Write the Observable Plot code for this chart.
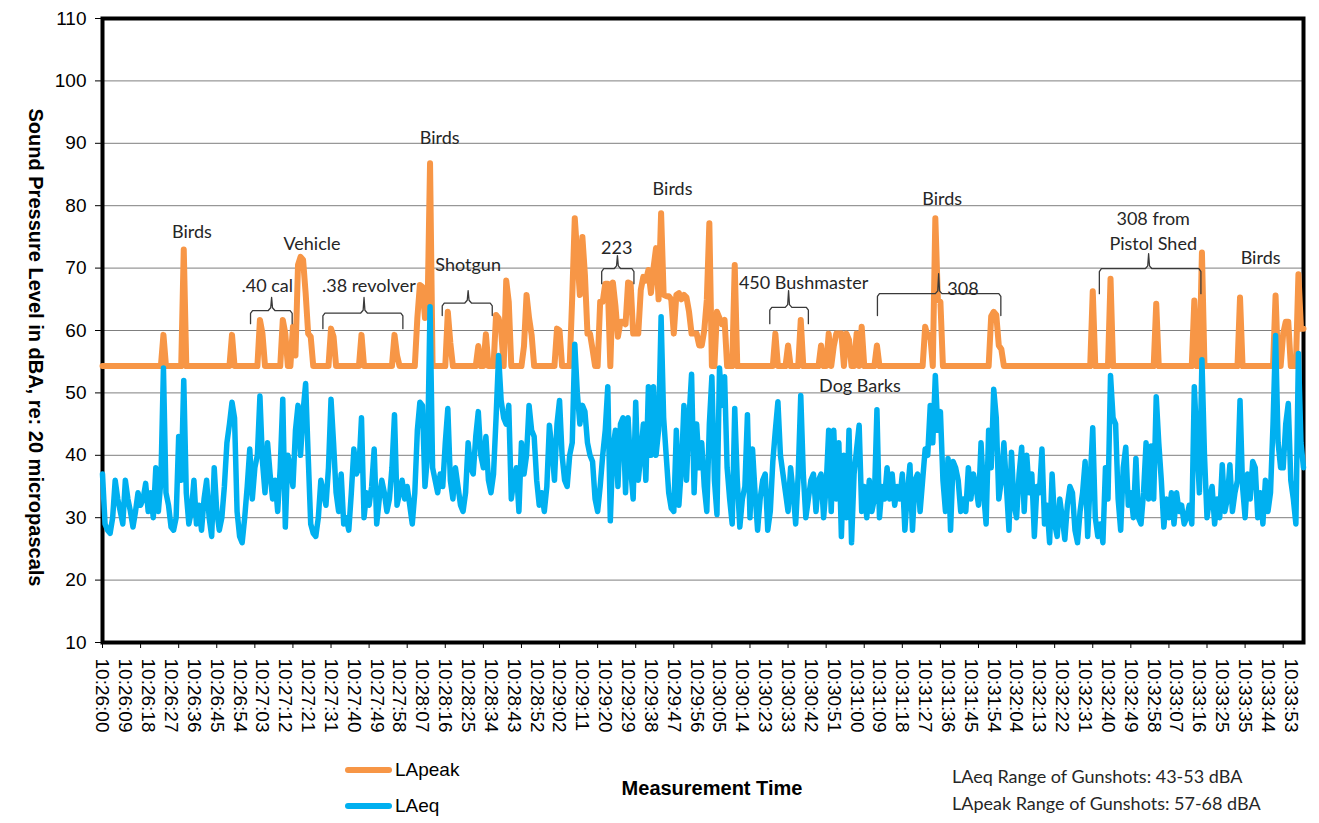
<!DOCTYPE html>
<html><head><meta charset="utf-8">
<script src="https://cdn.jsdelivr.net/npm/d3@7"></script>
<script src="https://cdn.jsdelivr.net/npm/@observablehq/plot@0.6"></script>
<style>
body{margin:0;background:#fff;}
#wrap{position:relative;width:1319px;height:823px;overflow:hidden;background:#fff;font-family:"Liberation Sans",Arial,sans-serif;}
#legend{position:relative;width:1319px;height:78px;}
.sw{position:absolute;height:6px;border-radius:3px;}
.lt{position:absolute;white-space:nowrap;line-height:1;color:#000;}
</style></head><body><div id="wrap"><div id="chart"></div><div id="legend"></div></div>
<script>
// Tick labels (every 9th sample)
const tickLabels = ["10:26:00","10:26:09","10:26:18","10:26:27","10:26:36","10:26:45","10:26:54","10:27:03","10:27:12","10:27:21","10:27:31","10:27:40","10:27:49","10:27:58","10:28:07","10:28:16","10:28:25","10:28:34","10:28:43","10:28:52","10:29:02","10:29:11","10:29:20","10:29:29","10:29:38","10:29:47","10:29:56","10:30:05","10:30:14","10:30:23","10:30:33","10:30:42","10:30:51","10:31:00","10:31:09","10:31:18","10:31:27","10:31:36","10:31:45","10:31:54","10:32:04","10:32:13","10:32:22","10:32:31","10:32:40","10:32:49","10:32:58","10:33:07","10:33:16","10:33:25","10:33:35","10:33:44","10:33:53"];
const labelEvery = 9;
const tickEvery = 15;
const yTicks = [10,20,30,40,50,60,70,80,90,100,110];

const seriesNames = ["LApeak","LAeq"];
const seriesColors = ["#F79646","#00B0F0"];

// LApeak (dBA), one value per sample
const laPeak = [
54.3,54.3,54.3,54.3,54.3,54.3,54.3,54.3,54.3,54.3,54.3,54.3,54.3,54.3,54.3,54.3,54.3,54.3,54.3,54.3,
54.3,54.3,54.3,54.3,59.3,54.3,54.3,54.3,54.3,54.3,54.3,54.3,73,54.3,54.3,54.3,54.3,54.3,54.3,54.3,
54.3,54.3,54.3,54.3,54.3,54.3,54.3,54.3,54.3,54.3,54.3,59.3,54.3,54.3,54.3,54.3,54.3,54.3,54.3,54.3,
54.3,54.3,61.7,59.5,54.3,54.3,54.3,54.3,54.3,54.3,54.3,61.7,59.5,54.3,54.3,60.6,56,70.5,71.8,71.3,
66,59.5,59,54.3,54.3,54.3,54.3,54.3,54.3,54.3,60.3,59,54.3,54.3,54.3,54.3,54.3,54.3,54.3,54.3,
54.3,54.3,59.3,54.3,54.3,54.3,54.3,54.3,54.3,54.3,54.3,54.3,54.3,54.3,54.3,59.3,56,54.3,54.3,54.3,
54.3,54.3,54.3,54.3,62,67.3,67,62,63,86.8,54.3,54.3,54.3,54.3,54.3,54.3,63,58,54.3,54.3,
54.3,54.3,54.3,54.3,54.3,54.3,54.3,54.3,57.5,54.3,54.3,59.4,54.3,54.3,54.3,62.5,62,60,54.3,68,
64.6,54.3,54.3,54.3,54.3,54.3,57.5,65.7,62,59.3,54.3,54.3,54.3,54.3,54.3,54.3,54.3,54.3,54.3,60.3,
60,54.3,54.3,54.3,54.3,65.4,78,72,65.7,75,68.9,59.5,59.5,57,54.3,54.3,64.6,64.6,67.5,67.5,
54.3,67.7,64,59,61.4,61.4,61,67.7,67.5,59.5,59.5,59.5,66.5,68.6,68,69.7,66,70,73.2,65,
78.8,65.7,65.5,65.5,65,59.5,65.7,66,65,65.7,65.3,63,59.5,59.5,59.5,57.6,57.6,60,64.9,77.2,
54.3,54.3,63,62,61,61.7,54.3,54.3,54.3,70.5,54.3,54.3,54.3,54.3,54.3,54.3,54.3,54.3,54.3,54.3,
54.3,54.3,54.3,54.3,54.3,59.5,54.3,54.3,54.3,54.3,57.6,54.3,54.3,54.3,54.3,61.7,54.3,54.3,54.3,54.3,
54.3,54.3,54.3,57.6,54.3,54.3,59.5,54.3,57.5,59.5,59.5,59.5,54.3,59.5,58.5,54.3,54.3,59.5,54.3,60.6,
54.3,54.3,54.3,54.3,54.3,57.6,54.3,54.3,54.3,54.3,54.3,54.3,54.3,54.3,54.3,54.3,54.3,54.3,54.3,54.3,
54.3,54.3,54.3,54.3,60.6,59,59.3,54.3,78,65,64.6,54.3,54.3,54.3,54.3,54.3,54.3,54.3,54.3,54.3,
54.3,54.3,54.3,54.3,54.3,54.3,54.3,54.3,54.3,54.3,62.3,63,62.5,57.6,57,54.3,54.3,54.3,54.3,54.3,
54.3,54.3,54.3,54.3,54.3,54.3,54.3,54.3,54.3,54.3,54.3,54.3,54.3,54.3,54.3,54.3,54.3,54.3,54.3,54.3,
54.3,54.3,54.3,54.3,54.3,54.3,54.3,54.3,54.3,54.3,66.3,54.3,54.3,54.3,54.3,54.3,54.3,68.3,54.3,54.3,
54.3,54.3,54.3,54.3,54.3,54.3,54.3,54.3,54.3,54.3,54.3,54.3,54.3,54.3,54.3,64.3,54.3,54.3,54.3,54.3,
54.3,54.3,54.3,54.3,54.3,54.3,54.3,54.3,54.3,54.3,64.8,54.3,54.3,72.5,54.3,54.3,54.3,54.3,54.3,54.3,
54.3,54.3,54.3,54.3,54.3,54.3,54.3,54.3,65.3,54.3,54.3,54.3,54.3,54.3,54.3,54.3,54.3,54.3,54.3,54.3,
54.3,54.3,65.6,54.3,54.3,59.5,61.4,61.4,54.3,54.3,54.3,69,60.3,60.3
];

// LAeq (dBA), one value per sample
const laEq = [
37,29,28,27.5,30,36,33,31,29,36,33,31,28.5,31,34,32,33,35.5,31,34,
30,38,31,36,54,34,32,28.5,28,30,43,36,52,34,29,31,36,29,32,28,
33,36,30,27,38,31,28,30,35,42,45,48.5,46,31,27,26,30,35,41,33,
38,40,49.5,39,34,42,37,33,36,31,38,49,28.5,40,38,35,44,48,40,47,
51.5,40,29,27.5,27,30,36,34,32,38,49,42,34,31,37,29,30,28,34,41,
37,38,46,30,34,32,35,41,29,33,36,34,31,33,38,46.5,32,34,36,33,
35,32,29,34,44,48.5,48,35,40,63.8,38,36,34,37,35,42,47.5,36,33,38,
35,32,31,34,42,38,37,43,47,40,38,43,36,34,37,46,56,48.8,46,45,
48,33,36,38,31,42,37,40,48,44,43,36,32,34,31,35,44.8,41,36,45,
48.8,40,36,35,40,42,57.8,50,45,48,47,42,40,39,33,31,35,40,44,51,
29.5,41,44,35,45,46,34,46,38,33,48.5,36,40,45,36,51,40,51,40,44,
62.2,46,40,34,31.5,31,44,32,38,48,36,46,53,34,45,38,42,35,31,45,
52.6,36,30.5,54,48,52.6,38,33,29,47.5,36,28.5,33,35,46.5,30,41,34,28,33,
36,37,28,31,39,44,48.6,40,37,34,31,38,34,29,37,49.6,37,30,33,36,
37,31,36,37,30,35,44,31,44,33,42,27,40,30,44,26,37,41,44.8,31,
35,30,36,31,33,47.3,30,35,33,38,33,37,32,35,33,37,28,34,38.5,28,
36,37,31,36,41,40,48,42,52.8,44,47,36,31,39.5,28,39,38,36,31,33,
31,38,33,37,35,32,42,34,29,44,38,50.6,46,33,36,42,35,28,40.5,32,
30,37,41.3,31,40,34,37,27,35,34,41,29,32,26,37,29,27,33,30,26.5,
32,35,34,28,26,31,34,39,27,36,44.4,30,27,29,26,38,33,52.8,46,45,
33,28,38,41.3,32,34,30,39.5,30,29,34,42,33,41.5,33,49.4,42,36,28.5,33,
30,34,29,34,31,32,29,30,32,29,51,42,34,55.3,40,30,33,35,29,33,
30,38.5,31,33,38.5,31,34,36,48.8,35,30,37,33,39,38,30,34,29,36,31,
34,45,59.2,42,38,38,45,48.3,36,33,29,56.3,42,38
];

// Annotations (sample index, dBA)
const annoLabels = ["Birds",".40 cal","Vehicle",".38 revolver","Birds","Shotgun","223","Birds","450 Bushmaster","Dog Barks","Birds","308","308 from","Pistol Shed","Birds"];
const annoX = [35.2,64.9,82.5,104.9,132.8,144,202.5,224.5,276.1,298.3,330.7,338.9,413.8,413.8,456.1];
const annoY = [75.8,67.1,73.9,67.1,90.8,70.4,73.2,82.7,67.5,51.1,81.1,66.6,77.8,73.9,71.6];

// Braces (sample index span, dBA levels)
const braceX1 = [58.3,86.8,133.8,196.6,262.8,305.2,392.6];
const braceX2 = [74.7,118.3,153.5,209.3,278,353.8,432.6];
const braceMid = [66.6,103,144,202.8,270.2,329.3,412];
const braceY = [63.2,62.8,64.4,69.9,63.7,65.9,69.9];
const braceEnd = [61.1,60.3,62.4,67.5,61.1,62.4,65.9];
const braceTip = [65.3,65.3,66.4,72,66.4,69.1,72.3];

const yTitle = "Sound Pressure Level in dBA, re: 20 micropascals";
const xTitle = "Measurement Time";
const notes = ["LAeq Range of Gunshots: 43-53 dBA","LApeak Range of Gunshots: 57-68 dBA"];

// ---- build tables ----
const peakRows = laPeak.map((v, i) => ({i, v}));
const eqRows = laEq.map((v, i) => ({i, v}));
const N = laEq.length;
const labelIdx = tickLabels.map((_, k) => k * labelEvery);
const tickIdx = d3.range(0, N, tickEvery);
const annos = annoLabels.map((t, k) => ({t, x: annoX[k], y: annoY[k]}));
const bracePts = [];
braceX1.forEach((x1, k) => {
  const x2 = braceX2[k], xm = braceMid[k], y = braceY[k], ye = braceEnd[k], yt = braceTip[k];
  const p = [[x1, ye],[x1, y - 0.45],[x1 + 0.8, y],[xm - 1.3, y],[xm - 0.35, y + 0.45],[xm, yt],
             [xm + 0.35, y + 0.45],[xm + 1.3, y],[x2 - 0.8, y],[x2, y - 0.45],[x2, ye]];
  p.forEach(([a, b]) => bracePts.push({k, x: a, y: b}));
});

const chart = Plot.plot({
  width: 1319,
  height: 745,
  marginLeft: 102,
  marginRight: 16,
  marginTop: 18,
  marginBottom: 103,
  style: {fontFamily: "'Liberation Sans', Arial, sans-serif", background: "#fff", color: "#000"},
  x: {domain: [0, N - 1]},
  y: {domain: [10, 110]},
  marks: [
    Plot.gridY([20,30,40,50,60,70,80,90,100], {stroke: "#7f7f7f", strokeOpacity: 1, strokeWidth: 1}),
    Plot.frame({stroke: "#000", strokeWidth: 4}),
    Plot.line(peakRows, {x: "i", y: "v", stroke: seriesColors[0], strokeWidth: 6, strokeLinejoin: "round", strokeLinecap: "round"}),
    Plot.line(eqRows, {x: "i", y: "v", stroke: seriesColors[1], strokeWidth: 5.5, strokeLinejoin: "round", strokeLinecap: "round"}),
    Plot.line(bracePts, {x: "x", y: "y", z: "k", stroke: "#3a3a3a", strokeWidth: 1.3}),
    Plot.text(annos, {x: "x", y: "y", text: "t", fontFamily: "Lato, 'Open Sans', sans-serif", fontSize: 18, fill: "#262626"}),
    Plot.axisY(yTicks, {tickSize: 7, tickPadding: 9, fontSize: 19, label: null}),
    Plot.axisX(tickIdx, {tickSize: 6, tickFormat: () => "", label: null}),
    Plot.axisX(labelIdx, {tickSize: 0, tickPadding: 16, tickRotate: 90, fontSize: 19, label: null,
      tickFormat: d => tickLabels[labelIdx.indexOf(d)]}),
    Plot.text([yTitle], {frameAnchor: "left", textAnchor: "middle", dx: -67, dy: 17, rotate: 90, text: d => d, fontSize: 20, fontWeight: "bold"})
  ]
});
document.getElementById("chart").appendChild(chart);

// ---- legend / captions below the SVG ----
const lg = document.getElementById("legend");
function add(html, css, cls) {
  const el = document.createElement("div");
  el.className = cls;
  el.innerHTML = html;
  Object.assign(el.style, css);
  lg.appendChild(el);
  return el;
}
add("", {left: "345px", top: "22px", width: "47px", background: seriesColors[0]}, "sw");
add(seriesNames[0], {left: "395px", top: "14.5px", fontSize: "19px"}, "lt");
add("", {left: "345px", top: "58px", width: "47px", background: seriesColors[1]}, "sw");
add(seriesNames[1], {left: "395px", top: "51px", fontSize: "19px"}, "lt");
add(xTitle, {left: "712px", top: "33px", fontSize: "20px", fontWeight: "bold", transform: "translateX(-50%)"}, "lt");
add(notes[0], {left: "952px", top: "22px", fontSize: "18px", fontFamily: "Lato, sans-serif", color: "#262626"}, "lt");
add(notes[1], {left: "952px", top: "49px", fontSize: "18px", fontFamily: "Lato, sans-serif", color: "#262626"}, "lt");
</script></body></html>
